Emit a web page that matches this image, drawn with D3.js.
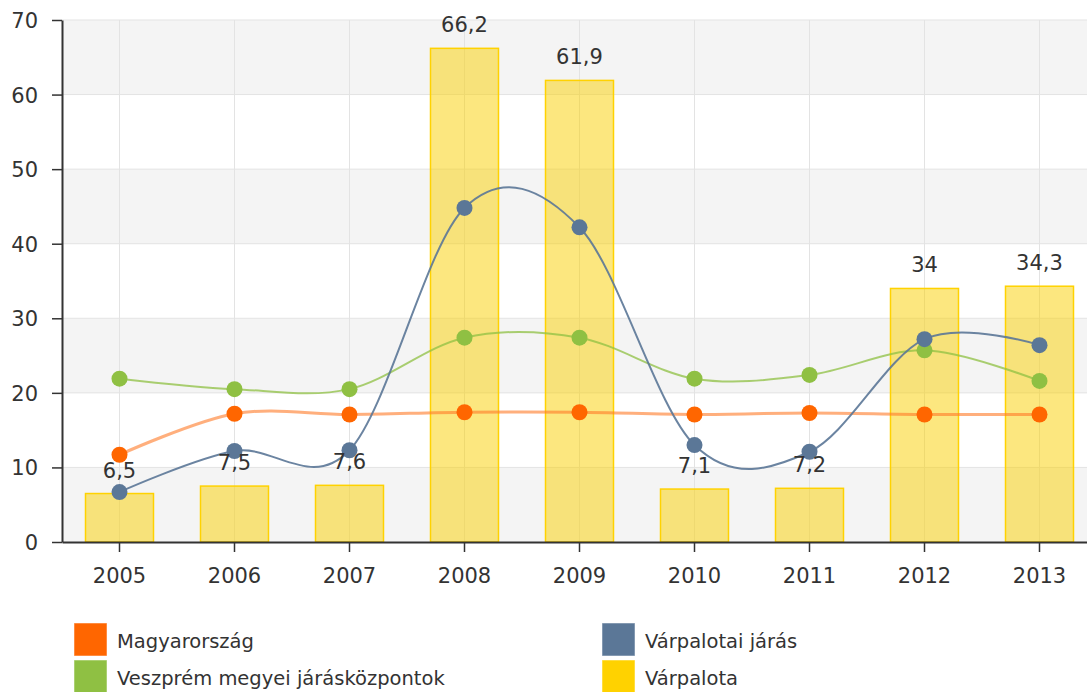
<!DOCTYPE html>
<html>
<head>
<meta charset="utf-8">
<script src="https://cdn.jsdelivr.net/npm/d3@7"></script>
<style>
  body { margin: 0; background: #fff; }
  text { font-family: "DejaVu Sans", Verdana, sans-serif; fill: #333; }
</style>
</head>
<body>
<div id="chart"></div>
<script>
// data
var years = ["2005", "2006", "2007", "2008", "2009", "2010", "2011", "2012", "2013"];
var varpalota = [6.5, 7.5, 7.6, 66.2, 61.9, 7.1, 7.2, 34, 34.3];
var magyarorszag = [11.7, 17.2, 17.1, 17.4, 17.4, 17.1, 17.3, 17.1, 17.1];
var jaras = [6.7, 12.2, 12.3, 44.8, 42.2, 13.0, 12.1, 27.2, 26.4];
var veszprem = [21.9, 20.5, 20.5, 27.4, 27.4, 21.9, 22.4, 25.7, 21.6];
var yTicks = [0, 10, 20, 30, 40, 50, 60, 70];

var width = 1087, height = 692;
var plotLeft = 62, plotRight = 1097, plotTop = 20, plotBottom = 542;

var svg = d3.select("#chart").append("svg")
    .attr("width", width)
    .attr("height", height);

var x = d3.scaleBand().domain(years).range([plotLeft, plotRight]);
var y = d3.scaleLinear().domain([0, 70]).range([plotBottom, plotTop]);
var cx = function (d) { return x(d) + x.bandwidth() / 2; };

// alternating bands
var bands = yTicks.slice(0, -1).filter(function (d) { return (d / 10) % 2 === 0; });
svg.append("g").selectAll("rect")
    .data(bands)
  .enter().append("rect")
    .attr("x", plotLeft)
    .attr("width", plotRight - plotLeft)
    .attr("y", function (d) { return y(d + 10); })
    .attr("height", function (d) { return y(d) - y(d + 10); })
    .attr("fill", "#f4f4f4");

// grid
var grid = svg.append("g").attr("stroke", "#e3e3e3").attr("stroke-width", 1);
grid.selectAll("line.h")
    .data(yTicks.slice(1))
  .enter().append("line")
    .attr("x1", plotLeft).attr("x2", plotRight)
    .attr("y1", function (d) { return y(d); })
    .attr("y2", function (d) { return y(d); });
grid.selectAll("line.v")
    .data(years)
  .enter().append("line")
    .attr("x1", cx).attr("x2", cx)
    .attr("y1", plotTop).attr("y2", plotBottom);

// bars
var barW = 68;
svg.append("g").selectAll("rect")
    .data(varpalota)
  .enter().append("rect")
    .attr("x", function (d, i) { return cx(years[i]) - barW / 2; })
    .attr("width", barW)
    .attr("y", function (d) { return y(d); })
    .attr("height", function (d) { return y(0) - y(d); })
    .attr("fill", "rgba(250,208,0,0.5)")
    .attr("stroke", "#ffd200")
    .attr("stroke-width", 1.5);

// axes
var yAxis = svg.append("g")
    .attr("transform", "translate(" + plotLeft + ",0)")
    .call(d3.axisLeft(y).tickValues(yTicks).tickSize(10).tickSizeOuter(0).tickPadding(14));
var xAxis = svg.append("g")
    .attr("transform", "translate(0," + plotBottom + ")")
    .call(d3.axisBottom(x).tickSize(10).tickSizeOuter(0).tickPadding(16));
[yAxis, xAxis].forEach(function (g) {
  g.select(".domain").attr("stroke", "#333").attr("stroke-width", 2);
  g.selectAll(".tick line").attr("stroke", "#333").attr("stroke-width", 1.5);
  g.selectAll(".tick text").attr("font-size", 21).attr("font-family", "DejaVu Sans").attr("fill", "#333");
});
yAxis.selectAll(".tick text").attr("dy", "0.36em");

// lines
var line = d3.line()
    .x(function (d, i) { return cx(years[i]); })
    .y(function (d) { return y(d); })
    .curve(d3.curveCardinal.tension(0));

var series = [
  { values: magyarorszag, line: "#ff7a26", width: 3, opacity: 0.6, dot: "#ff6600" },
  { values: veszprem, line: "#8fc043", width: 2, opacity: 0.75, dot: "#8fc043" },
  { values: jaras, line: "#5b7797", width: 2, opacity: 0.9, dot: "#5b7797" }
];

series.forEach(function (s) {
  svg.append("path")
      .datum(s.values)
      .attr("d", line)
      .attr("fill", "none")
      .attr("stroke", s.line)
      .attr("stroke-opacity", s.opacity)
      .attr("stroke-width", s.width);
});
series.forEach(function (s) {
  svg.append("g").selectAll("circle")
      .data(s.values)
    .enter().append("circle")
      .attr("cx", function (d, i) { return cx(years[i]); })
      .attr("cy", function (d) { return y(d); })
      .attr("r", 8)
      .attr("fill", s.dot);
});

// bar labels
svg.append("g").selectAll("text")
    .data(varpalota)
  .enter().append("text")
    .attr("x", function (d, i) { return cx(years[i]); })
    .attr("y", function (d) { return y(d) - 16; })
    .attr("text-anchor", "middle")
    .attr("font-size", 21)
    .text(function (d) { return String(d).replace(".", ","); });

// legend
var legendNames = ["Magyarország", "Várpalotai járás", "Veszprém megyei járásközpontok", "Várpalota"];
var legendColors = ["#ff6600", "#5b7797", "#8fc043", "#ffd200"];
var legend = svg.append("g").selectAll("g")
    .data(legendNames)
  .enter().append("g")
    .attr("transform", function (d, i) {
      return "translate(" + (i % 2 === 0 ? 74 : 602) + "," + (623 + Math.floor(i / 2) * 37) + ")";
    });
legend.append("rect")
    .attr("width", 33).attr("height", 33)
    .attr("fill", function (d, i) { return legendColors[i]; })
    .attr("stroke", "#fff").attr("stroke-opacity", 0.5);
legend.append("text")
    .attr("x", 43)
    .attr("y", 25)
    .attr("font-size", 19.5)
    .text(function (d) { return d; });
</script>
</body>
</html>
